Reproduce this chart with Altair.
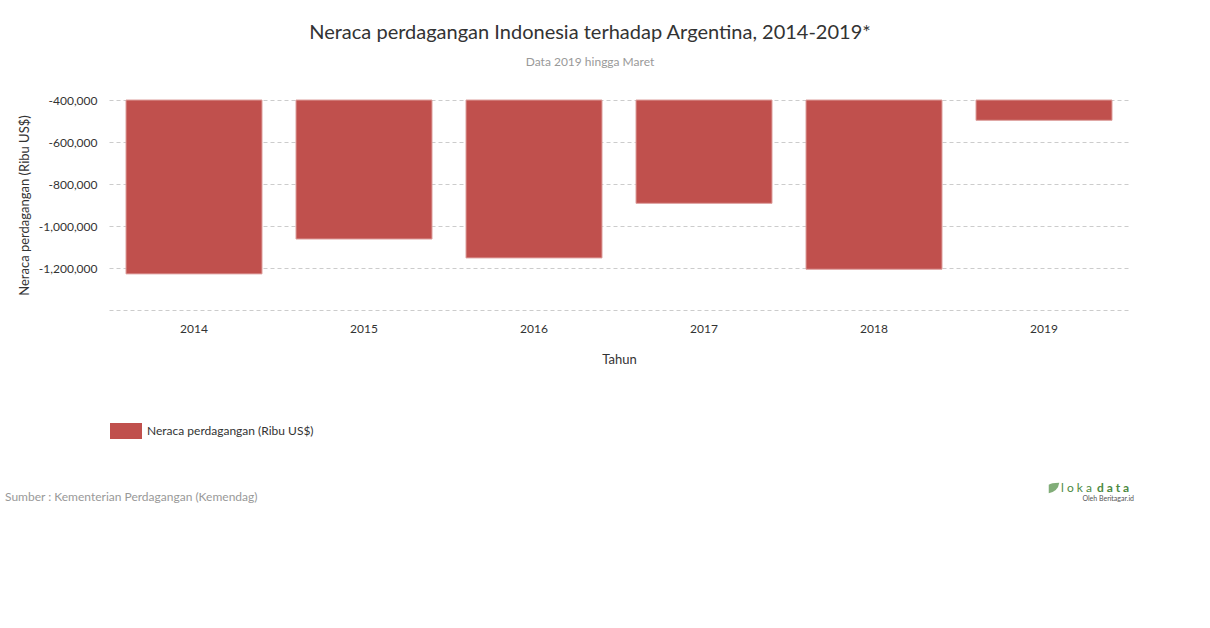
import altair as alt
import pandas as pd

years = ["2014", "2015", "2016", "2017", "2018", "2019"]
values = [-1228000, -1062000, -1152000, -892000, -1206000, -496700]
series_name = "Neraca perdagangan (Ribu US$)"
y_ticks = [-400000, -600000, -800000, -1000000, -1200000, -1400000]
title_text = "Neraca perdagangan Indonesia terhadap Argentina, 2014-2019*"
subtitle_text = "Data 2019 hingga Maret"
source_text = "Sumber : Kementerian Perdagangan (Kemendag)"

FONT = "Lato"
BAR = "#C0504D"

df = pd.DataFrame({"Tahun": years, "value": values, "series": [series_name] * len(years)})

bars = alt.Chart(df).mark_bar(stroke="#dd9e9c", strokeWidth=1).encode(
    x=alt.X("Tahun:N", title="Tahun",
            scale=alt.Scale(paddingInner=0.2, paddingOuter=0.1),
            axis=alt.Axis(labelAngle=0, domain=False, ticks=False, labelPadding=13,
                          labelFontSize=12, labelColor="#333", labelFont=FONT,
                          titleFont=FONT, titleFontSize=13, titleColor="#333",
                          titleFontWeight="normal", titlePadding=19)),
    y=alt.Y("value:Q", title="Neraca perdagangan (Ribu US$)",
            scale=alt.Scale(domain=[-1400000, -400000], nice=False, zero=False),
            axis=alt.Axis(values=y_ticks, domain=False, ticks=False, labelPadding=12,
                          labelExpr="datum.value < -1300000 ? '' : replace(format(datum.value, ','), '\u2212', '-')",
                          labelFontSize=12, labelColor="#333", labelFont=FONT,
                          titleFont=FONT, titleFontSize=13, titleColor="#333",
                          titleFontWeight="normal", titlePadding=7,
                          grid=True, gridDash=[4, 3], gridColor="#cccccc")),
    y2=alt.datum(-400000),
    color=alt.Color("series:N", scale=alt.Scale(range=[BAR]),
                    legend=alt.Legend(title=None, orient="none", legendX=1, legendY=315,
                                      symbolType="M-1,-0.5H1V0.5H-1Z", symbolSize=1024,
                                      symbolStrokeWidth=0, labelFont=FONT, labelFontSize=12,
                                      labelColor="#333", labelOffset=5, labelLimit=400)),
)

def txt(s, x, y, size, color, weight="normal", align="center", font=FONT):
    return alt.Chart(pd.DataFrame({"t": [s]})).mark_text(
        fontSize=size, color=color, font=font, fontWeight=weight, align=align, baseline="middle"
    ).encode(x=alt.value(x), y=alt.value(y), text="t:N")

title = txt(title_text, 481, -67, 20, "#333")
subtitle = txt(subtitle_text, 481, -38, 12, "#999")
source = txt(source_text, -104, 397, 12, "#999", align="left")
logo1 = txt("l o k a", 983, 388, 12, "#4c8a3f", align="right")
logo2 = txt("d a t a", 988, 388, 12, "#4c8a3f", weight="bold", align="left")
logo3 = txt("Oleh Beritagar.id", 1025, 399, 7, "#555", align="right")
leaf = alt.Chart(pd.DataFrame({"t": ["a"]})).mark_point(
    shape="M-1,-0.6Q-0.6,-1 1,-1Q0.8,0.6 -1,1Z", filled=True, color="#4c8a3f", size=110
).encode(x=alt.value(945), y=alt.value(388))

chart = alt.layer(bars, title, subtitle, source, logo1, logo2, logo3, leaf).properties(
    width=1020, height=210,
    padding={"left": 109, "top": 100, "right": 81, "bottom": 318},
    autosize=alt.AutoSizeParams(type="none"),
).configure(font=FONT, view=alt.ViewConfig(stroke=None))

chart.save("out.html", embed_options={"renderer": "svg", "actions": False})
